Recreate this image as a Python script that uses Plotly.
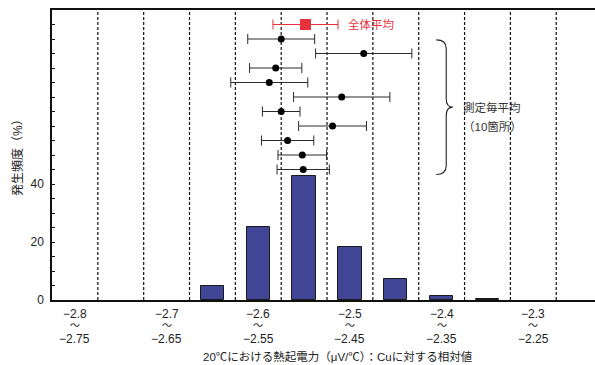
import plotly.graph_objects as go

# ---------------- data ----------------
bin_low = [-2.80, -2.75, -2.70, -2.65, -2.60, -2.55, -2.50, -2.45, -2.40, -2.35, -2.30, -2.25]
bin_high = [-2.75, -2.70, -2.65, -2.60, -2.55, -2.50, -2.45, -2.40, -2.35, -2.30, -2.25, -2.20]
freq = [0, 0, 0, 5.0, 25.3, 42.6, 18.2, 7.1, 1.5, 0.4, 0, 0]

label_low = ["−2.8", "−2.7", "−2.6", "−2.5", "−2.4", "−2.3"]
label_high = ["−2.75", "−2.65", "−2.55", "−2.45", "−2.35", "−2.25"]
label_pos = [-2.775, -2.675, -2.575, -2.475, -2.375, -2.275]

# per-measurement means (10 places) and their spread
row_mean = [-2.550, -2.460, -2.556, -2.563, -2.484, -2.550, -2.494, -2.543, -2.527, -2.526]
row_err = [0.0365, 0.0525, 0.0285, 0.042, 0.0525, 0.0205, 0.037, 0.0285, 0.0265, 0.0285]
row_y = [90, 85, 80, 75, 70, 65, 60, 55, 50, 45]

overall_mean = [-2.5235]
overall_err = [0.0355]
overall_y = [95]

y_ticks = list(range(0, 101, 5))
y_labels = ["0" if v == 0 else "20" if v == 20 else "40" if v == 40 else "" for v in y_ticks]

FONT = "Liberation Sans, Arial, Noto Sans CJK JP, sans-serif"
CJK = "Noto Sans CJK JP"
BAR = "#414596"
RED = "#e5323b"

fig = go.Figure()

centers = [(a + b) / 2 for a, b in zip(bin_low, bin_high)]
fig.add_trace(go.Bar(
    x=centers, y=[v if v > 0 else None for v in freq], width=0.0255,
    marker=dict(color=BAR, line=dict(color="#1a1a1a", width=1)),
    showlegend=False, hoverinfo="skip"))

fig.add_trace(go.Scatter(
    x=row_mean, y=row_y, mode="markers",
    marker=dict(color="black", size=7),
    error_x=dict(type="data", array=row_err, symmetric=True,
                 color="#2a2a2a", thickness=1, width=5),
    showlegend=False, hoverinfo="skip"))

fig.add_trace(go.Scatter(
    x=overall_mean, y=overall_y, mode="markers",
    marker=dict(color=RED, size=11, symbol="square"),
    error_x=dict(type="data", array=overall_err, symmetric=True,
                 color=RED, thickness=1, width=5),
    showlegend=False, hoverinfo="skip"))

shapes = []
# vertical dashed bin boundaries
for b in bin_low[1:]:
    shapes.append(dict(type="line", xref="x", yref="paper", x0=b, x1=b, y0=0, y1=1,
                       line=dict(color="#111", width=1.2, dash="3px,2px"), layer="below"))

# brace around the 10 per-measurement means
bx0, bx1, bx2 = -2.3809, -2.3700, -2.3628
yt, yb = max(row_y) - 0.3, min(row_y) - 1.7
ym = (yt + yb) / 2
d = 3
path = (f"M {bx0},{yt} Q {bx1},{yt} {bx1},{yt-d} L {bx1},{ym+d} "
        f"Q {bx1},{ym} {bx2},{ym} Q {bx1},{ym} {bx1},{ym-d} "
        f"L {bx1},{yb+d} Q {bx1},{yb} {bx0},{yb}")
shapes.append(dict(type="path", xref="x", yref="y", path=path,
                   line=dict(color="#222", width=1.1)))

annotations = []
for p, lo, hi in zip(label_pos, label_low, label_high):
    annotations.append(dict(x=p, xref="x", y=0, yref="paper", text=lo, showarrow=False,
                            yanchor="middle", yshift=-14, font=dict(size=12, color="#222", family=FONT)))
    annotations.append(dict(x=p, xref="x", y=0, yref="paper", text="～", showarrow=False,
                            yanchor="middle", yshift=-25.5, font=dict(size=10, color="#222", family=FONT)))
    annotations.append(dict(x=p, xref="x", y=0, yref="paper", text=hi, showarrow=False,
                            yanchor="middle", yshift=-38.5, font=dict(size=12, color="#222", family=FONT)))

x_title = (f"20℃における熱起電力<span style='font-family:{CJK}'>（</span>μV/℃"
           f"<span style='font-family:{CJK}'>）：</span>Cuに対する相対値")
annotations.append(dict(x=0.526, xref="paper", y=0, yref="paper",
                        text=x_title,
                        showarrow=False, yanchor="middle", yshift=-55.5,
                        font=dict(size=11.5, color="#222", family=FONT)))
annotations.append(dict(x=0, xref="paper", y=0.5, yref="paper", text="発生頻度（%）",
                        textangle=-90, showarrow=False, xanchor="center", xshift=-34,
                        font=dict(size=12, color="#222", family=FONT)))
annotations.append(dict(x=-2.479, xref="x", y=overall_y[0], yref="y", text="全体平均",
                        showarrow=False, xanchor="left", yanchor="middle",
                        font=dict(size=11.5, color=RED, family=FONT)))
annotations.append(dict(x=-2.3535, xref="x", y=66.4, yref="y", text="測定毎平均",
                        showarrow=False, xanchor="left", yanchor="middle",
                        font=dict(size=11.5, color="#333", family=FONT)))
annotations.append(dict(x=-2.3535, xref="x", y=59.9, yref="y", text="（10箇所）",
                        showarrow=False, xanchor="left", yanchor="middle",
                        font=dict(size=11.5, color="#333", family=FONT)))

fig.update_layout(
    width=595, height=365,
    margin=dict(l=52, r=0, t=10, b=65, autoexpand=False),
    paper_bgcolor="white", plot_bgcolor="white",
    font=dict(family=FONT, size=12, color="#222"),
    shapes=shapes, annotations=annotations,
    bargap=0,
    xaxis=dict(range=[-2.8, -2.8 + 543 / 916.8], showgrid=False, zeroline=False,
               showticklabels=False, ticks="", showline=True, mirror=True,
               linecolor="#111", linewidth=1.5),
    yaxis=dict(range=[0, 100], showgrid=False, zeroline=False,
               tickvals=y_ticks, ticktext=y_labels, ticks="inside", ticklen=3,
               tickcolor="#111", tickwidth=1, showline=True, linecolor="#111", linewidth=1.5,
               tickfont=dict(size=12, color="#222", family=FONT), ticklabelstandoff=4),
)

fig.write_html("out.html", config={"displayModeBar": False},
               post_script="document.body.style.margin='0';document.body.style.overflow='hidden';")
